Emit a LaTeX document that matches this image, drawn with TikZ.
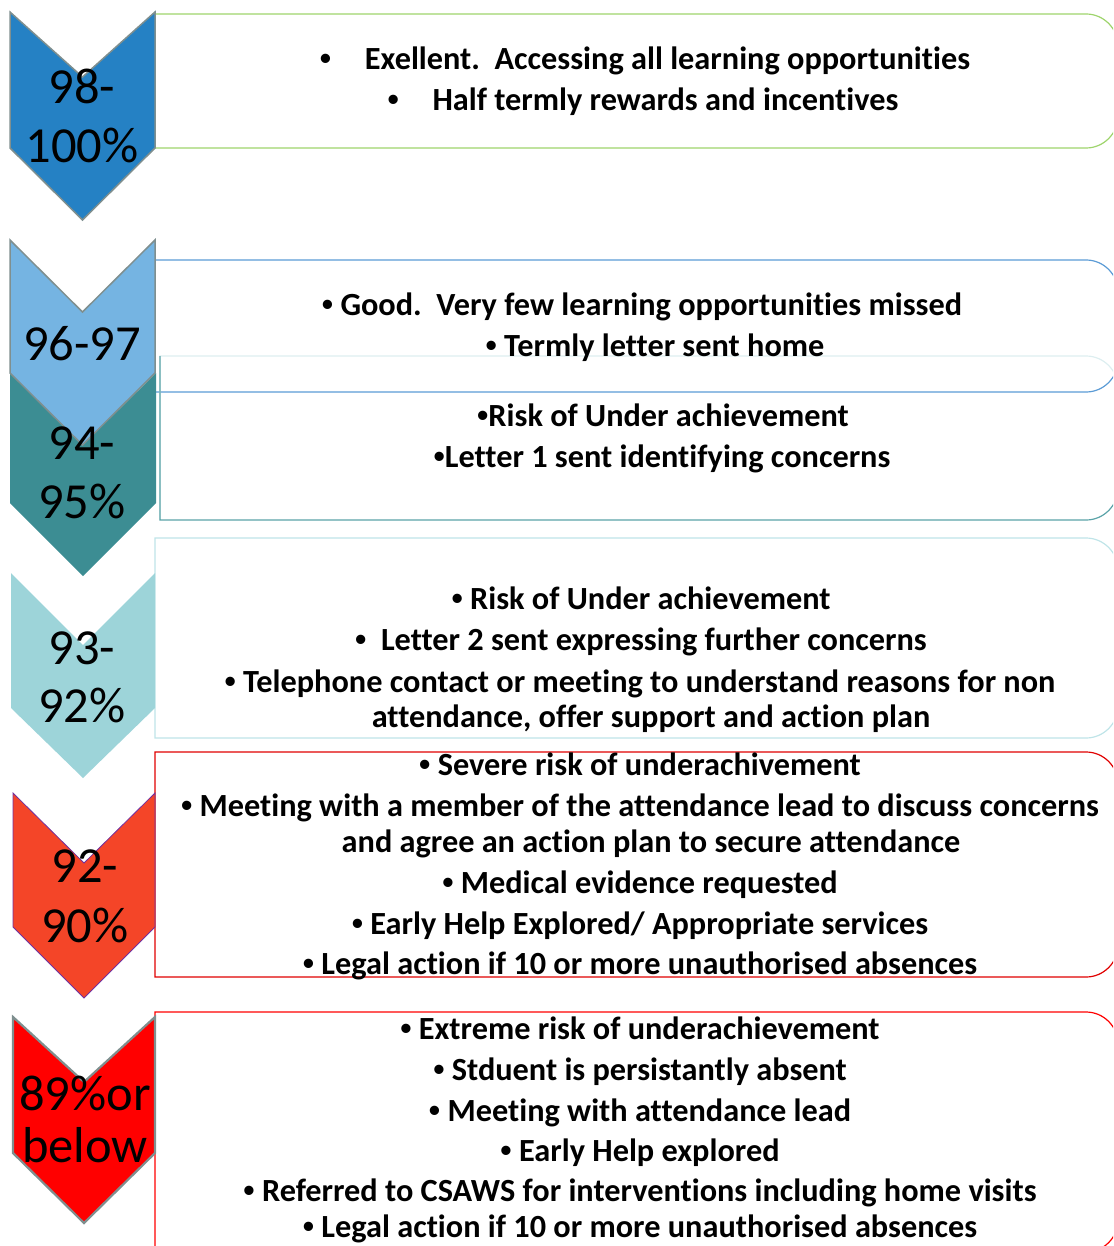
\documentclass[tikz,border=0pt]{standalone}
\usepackage{fontspec}
\setmainfont{Carlito}[Ligatures=NoCommon]
\newfontfamily\bulfnt{Liberation Sans}
\newcommand\bul{{\bulfnt •}}
\newcommand\bodyfnt{\bfseries\fontsize{32.3}{38}\selectfont}
\newcommand\bigfnt{\fontsize{50.5}{60}\selectfont}
\definecolor{cBlue}{HTML}{2581C4}
\definecolor{cLight}{HTML}{75B4E2}
\definecolor{cTeal}{HTML}{3C8D93}
\definecolor{cPale}{HTML}{9DD4D9}
\definecolor{cOrange}{HTML}{F44528}
\definecolor{cRed}{HTML}{FF0000}
\definecolor{cGray}{HTML}{7F8F8F}
\definecolor{cPurple}{HTML}{7030A0}
\definecolor{bGreen}{HTML}{9ED46C}
\definecolor{bBlue}{HTML}{5B9BD5}
\definecolor{bTeal}{HTML}{5AA3A8}
\definecolor{bFaint}{HTML}{DDEEF0}
\definecolor{bPale}{HTML}{BFE4E8}
\definecolor{bRed}{HTML}{E00000}
% chevron: style, xl, xr, top, notch, sidebottom, tip
\newcommand\mychev[7]{\filldraw[#1] (#2,#4) -- ({(#2+#3)/2},#5) -- (#3,#4) -- (#3,#6) -- ({(#2+#3)/2},#7) -- (#2,#6) -- cycle;}
% box with rounded right corners: style, left, top, bottom
\newcommand\mybox[4]{\draw[#1] (#2,#3) -- (1086,#3) .. controls (1103.6,#3) and (1118,{#3+14.4}) .. (1118,{#3+32}) -- (1118,{#4-32}) .. controls (1118,{#4-14.4}) and (1103.6,#4) .. (1086,#4) -- (#2,#4) -- cycle;}
\begin{document}
\begin{tikzpicture}[x=1pt,y=-1pt,
  ln/.style={anchor=base, inner sep=0pt, font=\bodyfnt},
  pc/.style={anchor=base, inner sep=0pt, font=\bigfnt},
  boxline/.style={line width=1.2pt}]
\useasboundingbox (0,0) rectangle (1113,1246);
\clip (0,0) rectangle (1113,1246);
% boxes
\mybox{boxline, bGreen}{155}{14}{148}
\mybox{boxline, bBlue}{155}{260}{392}
\draw[boxline, bFaint] (160,520) -- (160,356) -- (1086,356) .. controls (1103.6,356) and (1118,370.4) .. (1118,388);
\draw[boxline, bTeal] (1118,388) -- (1118,488) .. controls (1118,505.6) and (1103.6,520) .. (1086,520) -- (160,520) -- (160,356);
\mybox{boxline, bPale}{155}{538}{738}
\mybox{boxline, bRed}{155}{752}{977}
\mybox{boxline, cRed}{155}{1012}{1252}
% chevrons
\mychev{fill=cBlue, draw=cGray, line width=1.5pt}{10}{155}{12}{77}{148}{220}
\mychev{fill=cTeal, draw=none}{10}{156}{373}{445}{503}{576}
\mychev{fill=cLight, draw=cGray, line width=1.5pt}{10}{155}{240}{312}{373}{445}
\mychev{fill=cPale, draw=none}{11}{155}{573}{645}{708}{778}
\mychev{fill=cOrange, draw=cPurple, line width=0.8pt}{13}{155}{793}{863}{927}{998}
\mychev{fill=cRed, draw=cGray, line width=2.2pt}{13}{155}{1017}{1082}{1153}{1223}
% chevron labels
\node[pc] (c1a) at (82,104) {98-};
\node[pc] (c1b) at (82,163) {100\%};
\node[pc] (c2a) at (82,360) {96-97};
\node[pc] (c3a) at (82,459) {94-};
\node[pc] (c3b) at (82,518) {95\%};
\node[pc] (c4a) at (82,664) {93-};
\node[pc] (c4b) at (82,722) {92\%};
\node[pc] (c5a) at (85,882) {92-};
\node[pc] (c5b) at (85,942) {90\%};
\node[pc] (c6a) at (85,1110) {89\%or};
\node[pc] (c6b) at (85,1162) {below};
% box 1
\node[ln] (t11) at (645,70) {\makebox[45pt][l]{\bul}Exellent.~~Accessing all learning opportunities};
\node[ln] (t12) at (643,111) {\makebox[45pt][l]{\bul}Half termly rewards and incentives};
% box 2
\node[ln] (t21) at (642,315) {\bul{} Good.~~Very few learning opportunities missed};
\node[ln] (t22) at (655,356) {\bul{} Termly letter sent home};
% box 3
\node[ln] (t31) at (663,426) {\bul Risk of Under achievement};
\node[ln] (t32) at (662,467) {\bul Letter 1 sent identifying concerns};
% box 4
\node[ln] (t41) at (641,609) {\bul{} Risk of Under achievement};
\node[ln] (t42) at (641,650) {\bul~~Letter 2 sent expressing further concerns};
\node[ln] (t43) at (640,692) {\bul{} Telephone contact or meeting to understand reasons for non};
\node[ln] (t44) at (651,727) {attendance, offer support and action plan};
% box 5
\node[ln] (t51) at (640,775) {\bul{} Severe risk of underachivement};
\node[ln] (t52) at (640,816) {\bul{} Meeting with a member of the attendance lead to discuss concerns};
\node[ln] (t53) at (651,852) {and agree an action plan to secure attendance};
\node[ln] (t54) at (640,893) {\bul{} Medical evidence requested};
\node[ln] (t55) at (640,934) {\bul{} Early Help Explored/ Appropriate services};
\node[ln] (t56) at (640,974) {\bul{} Legal action if 10 or more unauthorised absences};
% box 6
\node[ln] (t61) at (640,1039) {\bul{} Extreme risk of underachievement};
\node[ln] (t62) at (640,1080) {\bul{} Stduent is persistantly absent};
\node[ln] (t63) at (640,1121) {\bul{} Meeting with attendance lead};
\node[ln] (t64) at (640,1161) {\bul{} Early Help explored};
\node[ln] (t65) at (640,1201) {\bul{} Referred to CSAWS for interventions including home visits};
\node[ln] (t66) at (640,1237) {\bul{} Legal action if 10 or more unauthorised absences};
\end{tikzpicture}
\end{document}
